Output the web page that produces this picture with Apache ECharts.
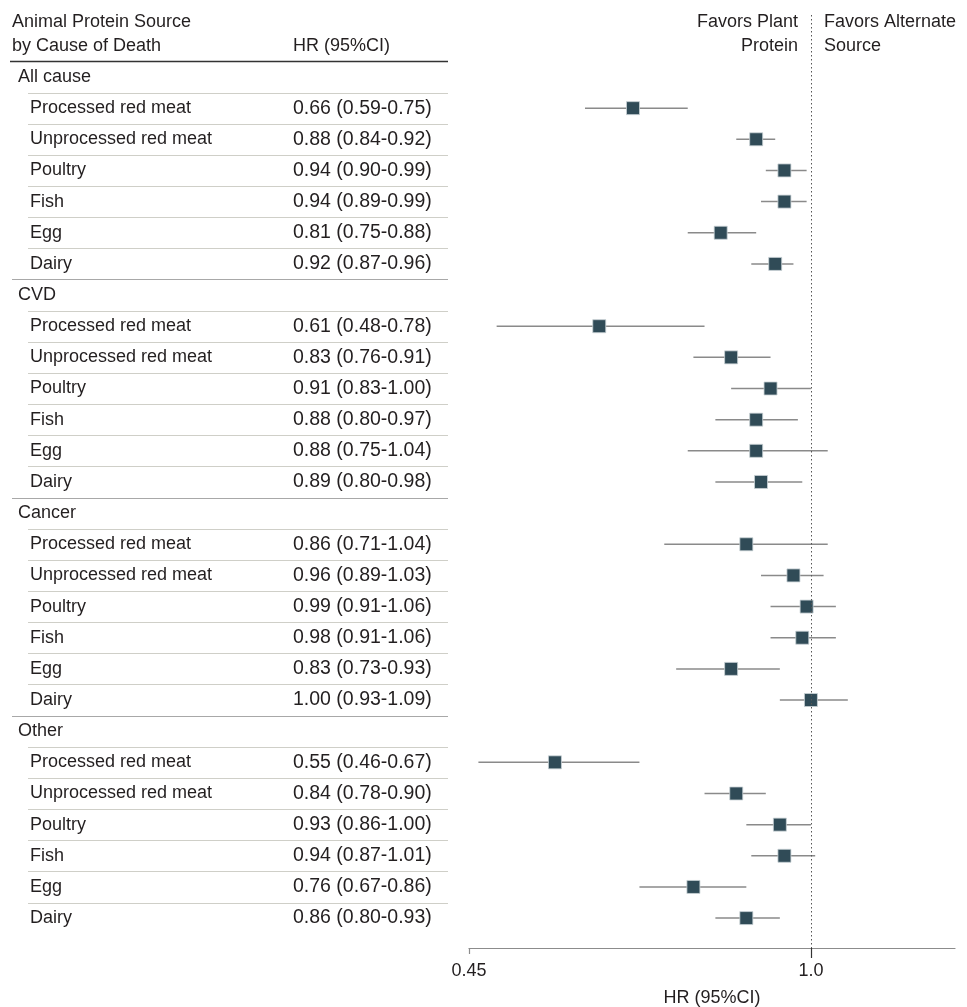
<!DOCTYPE html>
<html>
<head>
<meta charset="utf-8">
<script src="https://cdn.jsdelivr.net/npm/echarts@6/dist/echarts.min.js"></script>
<style>
html,body{margin:0;padding:0;background:#fff;}
#chart{width:967px;height:1007px;}
</style>
</head>
<body>
<div id="chart"></div>
<script>
// ---------- DATA ----------
const groups = ['All cause', 'CVD', 'Cancer', 'Other'];
const sources = ['Processed red meat', 'Unprocessed red meat', 'Poultry', 'Fish', 'Egg', 'Dairy'];

const hrAllCause = [0.66, 0.88, 0.94, 0.94, 0.81, 0.92];
const loAllCause = [0.59, 0.84, 0.90, 0.89, 0.75, 0.87];
const hiAllCause = [0.75, 0.92, 0.99, 0.99, 0.88, 0.96];

const hrCVD = [0.61, 0.83, 0.91, 0.88, 0.88, 0.89];
const loCVD = [0.48, 0.76, 0.83, 0.80, 0.75, 0.80];
const hiCVD = [0.78, 0.91, 1.00, 0.97, 1.04, 0.98];

const hrCancer = [0.86, 0.96, 0.99, 0.98, 0.83, 1.00];
const loCancer = [0.71, 0.89, 0.91, 0.91, 0.73, 0.93];
const hiCancer = [1.04, 1.03, 1.06, 1.06, 0.93, 1.09];

const hrOther = [0.55, 0.84, 0.93, 0.94, 0.76, 0.86];
const loOther = [0.46, 0.78, 0.86, 0.87, 0.67, 0.80];
const hiOther = [0.67, 0.90, 1.00, 1.01, 0.86, 0.93];

const xTickValues = [0.45, 1.0];
const xTickLabels = ['0.45', '1.0'];
const xAxisMin = 0.45, xAxisMax = 1.4;

// ---------- BUILD ROWS ----------
const groupData = [
  [hrAllCause, loAllCause, hiAllCause],
  [hrCVD, loCVD, hiCVD],
  [hrCancer, loCancer, hiCancer],
  [hrOther, loOther, hiOther]
];
const tableRows = [];   // [row, kind, label, hrText, isLastInGroup, isLastOverall]
const points = [];      // [hr, row]
const whiskers = [];    // [lo, hi, row]
let row = 0;
groups.forEach((g, gi) => {
  tableRows.push([row, 'group', g, '', 0, 0]);
  row++;
  const [hr, lo, hi] = groupData[gi];
  sources.forEach((s, si) => {
    const txt = hr[si].toFixed(2) + ' (' + lo[si].toFixed(2) + '-' + hi[si].toFixed(2) + ')';
    const lastInGroup = si === sources.length - 1 ? 1 : 0;
    const lastOverall = (lastInGroup && gi === groups.length - 1) ? 1 : 0;
    tableRows.push([row, 'item', s, txt, lastInGroup, lastOverall]);
    points.push([hr[si], row]);
    whiskers.push([lo[si], hi[si], row]);
    row++;
  });
});

const FONT = 'Liberation Sans';
const FS = 18;
const FS_NUM = 19.5;
const TEXT = '#231f20';

const yCommon = {
  type: 'value', inverse: true, min: -1.99, max: 27.96,
  show: false, splitLine: { show: false }
};

const chart = echarts.init(document.getElementById('chart'), null, { renderer: 'canvas' });

const option = {
  backgroundColor: '#ffffff',
  animation: false,
  textStyle: { fontFamily: FONT },
  grid: [
    { left: 469, width: 486, top: 15, height: 933, containLabel: false, outerBoundsMode: 'none' },   // plot
    { left: 0, width: 448, top: 15, height: 933, containLabel: false, outerBoundsMode: 'none' }      // table
  ],
  xAxis: [
    {
      type: 'log', gridIndex: 0, min: xAxisMin, max: xAxisMax, logBase: 10, position: 'bottom',
      axisLine: { show: true, onZero: false, lineStyle: { color: '#8c8c8c', width: 1.2 } },
      axisTick: { show: true, length: 6, customValues: [xTickValues[0]], lineStyle: { color: '#8c8c8c', width: 1.2 } },
      axisLabel: {
        show: true, customValues: [xTickValues[0]], formatter: () => xTickLabels[0],
        margin: 14, fontSize: FS, color: TEXT, fontFamily: FONT
      },
      splitLine: { show: false },
      name: 'HR (95%CI)', nameLocation: 'middle', nameGap: 41,
      nameTextStyle: { fontSize: FS, color: TEXT, fontFamily: FONT }
    },
    {
      type: 'log', gridIndex: 0, min: xAxisMin, max: xAxisMax, logBase: 10, position: 'bottom', offset: 0,
      axisLine: { show: false, onZero: false },
      axisTick: { show: true, length: 10, customValues: [xTickValues[1]], lineStyle: { color: '#333', width: 1.2 } },
      axisLabel: {
        show: true, customValues: [xTickValues[1]], formatter: () => xTickLabels[1],
        margin: 14, fontSize: FS, color: TEXT, fontFamily: FONT
      },
      splitLine: { show: false }
    },
    { type: 'value', gridIndex: 1, min: 0, max: 448, show: false, splitLine: { show: false } }
  ],
  yAxis: [
    Object.assign({ gridIndex: 0 }, yCommon),
    Object.assign({ gridIndex: 1 }, yCommon)
  ],
  graphic: [
    { type: 'text', x: 12, y: 22, style: { text: 'Animal Protein Source', font: FS + 'px ' + FONT, fill: TEXT, align: 'left', verticalAlign: 'middle' } },
    { type: 'text', x: 12, y: 46, style: { text: 'by Cause of Death', font: FS + 'px ' + FONT, fill: TEXT, align: 'left', verticalAlign: 'middle' } },
    { type: 'text', x: 293, y: 46, style: { text: 'HR (95%CI)', font: FS + 'px ' + FONT, fill: TEXT, align: 'left', verticalAlign: 'middle' } },
    { type: 'text', x: 798, y: 22, style: { text: 'Favors Plant', font: FS + 'px ' + FONT, fill: TEXT, align: 'right', verticalAlign: 'middle' } },
    { type: 'text', x: 798, y: 46, style: { text: 'Protein', font: FS + 'px ' + FONT, fill: TEXT, align: 'right', verticalAlign: 'middle' } },
    { type: 'text', x: 824, y: 22, style: { text: 'Favors Alternate', font: FS + 'px ' + FONT, fill: TEXT, align: 'left', verticalAlign: 'middle' } },
    { type: 'text', x: 824, y: 46, style: { text: 'Source', font: FS + 'px ' + FONT, fill: TEXT, align: 'left', verticalAlign: 'middle' } }
  ],
  series: [
    // table (text + separators)
    {
      type: 'custom', xAxisIndex: 2, yAxisIndex: 1, coordinateSystem: 'cartesian2d',
      data: tableRows, silent: true,
      encode: { x: -1, y: 0 },
      renderItem: (params, api) => {
        const r = api.value(0);
        const d = tableRows[params.dataIndex];
        const y = api.coord([0, r])[1];
        const band = api.size([0, 1])[1];
        const X = v => api.coord([v, r])[0];
        const children = [];
        const isGroup = d[1] === 'group';
        children.push({
          type: 'text',
          style: { text: d[2], x: X(isGroup ? 18 : 30), y: y, align: 'left', verticalAlign: 'middle', font: FS + 'px ' + FONT, fill: TEXT }
        });
        if (!isGroup) {
          children.push({
            type: 'text',
            style: { text: d[3], x: X(293), y: y, align: 'left', verticalAlign: 'middle', font: FS_NUM + 'px ' + FONT, fill: TEXT }
          });
        }
        const yb = Math.round(y + band / 2) + 0.5;
        if (r === 0) {
          const yt = Math.round(y - band / 2) + 0.5;
          children.push({ type: 'line', shape: { x1: X(10), y1: yt, x2: X(448), y2: yt }, style: { stroke: '#333', lineWidth: 1.5 } });
        }
        if (!d[5]) {
          if (d[4]) {
            children.push({ type: 'line', shape: { x1: X(12), y1: yb, x2: X(448), y2: yb }, style: { stroke: '#a8a8a8', lineWidth: 1 } });
          } else {
            children.push({ type: 'line', shape: { x1: X(28), y1: yb, x2: X(448), y2: yb }, style: { stroke: '#cfcfc8', lineWidth: 1 } });
          }
        }
        return { type: 'group', children: children };
      }
    },
    // whiskers
    {
      type: 'custom', xAxisIndex: 0, yAxisIndex: 0,
      data: whiskers, silent: true,
      encode: { x: [0, 1], y: 2 },
      renderItem: (params, api) => {
        const p1 = api.coord([api.value(0), api.value(2)]);
        const p2 = api.coord([api.value(1), api.value(2)]);
        return {
          type: 'line',
          shape: { x1: p1[0], y1: p1[1], x2: p2[0], y2: p2[1] },
          style: { stroke: '#8a8a8a', lineWidth: 1.5 }
        };
      },
      z: 2
    },
    // points
    {
      type: 'scatter', xAxisIndex: 0, yAxisIndex: 0,
      data: points, symbol: 'rect', symbolSize: 13, silent: true,
      itemStyle: { color: '#304b57', borderColor: '#c9d2d6', borderWidth: 0.8, opacity: 1 },
      z: 3,
      markLine: {
        silent: true, symbol: 'none', label: { show: false },
        lineStyle: { type: [1.5, 2.5], color: '#555', width: 1 },
        data: [{ xAxis: 1.0 }]
      }
    }
  ]
};
chart.setOption(option);
</script>
</body>
</html>
